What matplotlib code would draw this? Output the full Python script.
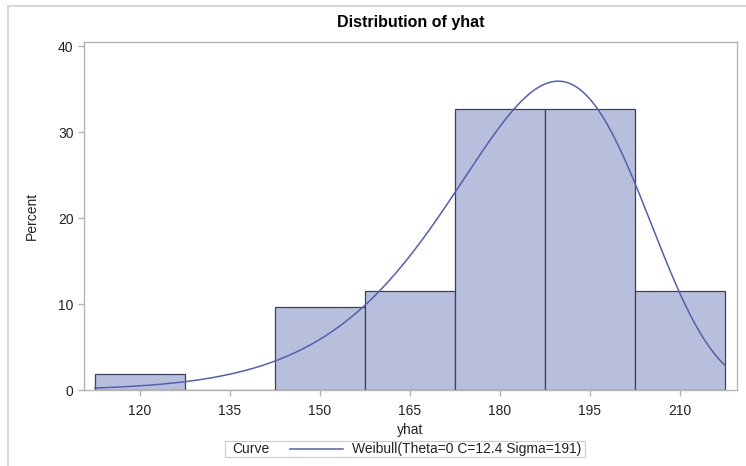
import numpy as np
import matplotlib
matplotlib.use("Agg")
import matplotlib.pyplot as plt
from matplotlib.patches import Rectangle
from matplotlib.lines import Line2D

plt.rcParams["font.family"] = ["Liberation Sans", "DejaVu Sans"]

# histogram data (bin midpoints and percent of observations)
midpoints = [120, 135, 150, 165, 180, 195, 210]
percents = [1.92, 0.0, 9.62, 11.54, 32.69, 32.69, 11.54]
bin_width = 15

# fitted Weibull parameters from the legend
theta = 0
shape_c = 12.4
sigma = 191
curve_label = "Weibull(Theta=0 C=12.4 Sigma=191)"

fill_color = "#b7bfdc"
edge_color = "#3a4060"
curve_color = "#5560a8"
frame_color = "#b4b4b4"
text_color = "#222222"

W, H = 746, 466
fig = plt.figure(figsize=(W / 100, H / 100), dpi=100)
ax = fig.add_axes([84 / W, 1 - 390 / H, (737 - 84) / W, (390 - 42) / H])

ax.bar(midpoints, percents, width=bin_width, color=fill_color,
       edgecolor=edge_color, linewidth=0.9)

# Weibull density scaled to percent per bin
lo = midpoints[0] - bin_width / 2
hi = midpoints[-1] + bin_width / 2
x = np.linspace(lo, hi, 400)
z = (x - theta) / sigma
pdf = shape_c / sigma * z ** (shape_c - 1) * np.exp(-z ** shape_c)
ax.plot(x, pdf * bin_width * 100, color=curve_color, linewidth=1.1)

ax.set_xlim(110.7, 219.5)
ax.set_ylim(0, 40.5)
ax.set_xticks(midpoints)
ax.set_yticks([0, 10, 20, 30, 40])
for s in ax.spines.values():
    s.set_color(frame_color)
    s.set_linewidth(1.0)
ax.tick_params(colors=frame_color, labelcolor=text_color, labelsize=10,
               length=4, width=1.0)
ax.tick_params(axis="x", pad=6)

ax.set_title("Distribution of yhat", fontsize=11.5, fontweight="bold", pad=11)
ax.set_xlabel("yhat", fontsize=10, color=text_color, labelpad=4)
ax.set_ylabel("Percent", fontsize=10, color=text_color, labelpad=14,
              fontstretch="condensed")


def px(xp, yp):
    return xp / W, 1 - yp / H


# legend box below the axes
fig.patches.append(Rectangle(px(225, 457), 360 / W, 16 / H,
                             transform=fig.transFigure, facecolor="white",
                             edgecolor="#cccccc", linewidth=0.8))
fig.text(*px(232, 449), "Curve", fontsize=10, color=text_color,
         va="center", ha="left")
fig.lines.append(Line2D([290 / W, 343 / W], [1 - 449 / H, 1 - 449 / H],
                        transform=fig.transFigure, color=curve_color,
                        linewidth=1.1))
fig.text(*px(352, 449), curve_label, fontsize=10, color=text_color,
         va="center", ha="left")

# outer graph frame
fig.patches.append(Rectangle((8 / W, -0.1), 1.2, 1.1 - 6 / H,
                             transform=fig.transFigure, fill=False,
                             edgecolor="#d0d0d0", linewidth=1.2))

fig.savefig("out.png", dpi=100)
